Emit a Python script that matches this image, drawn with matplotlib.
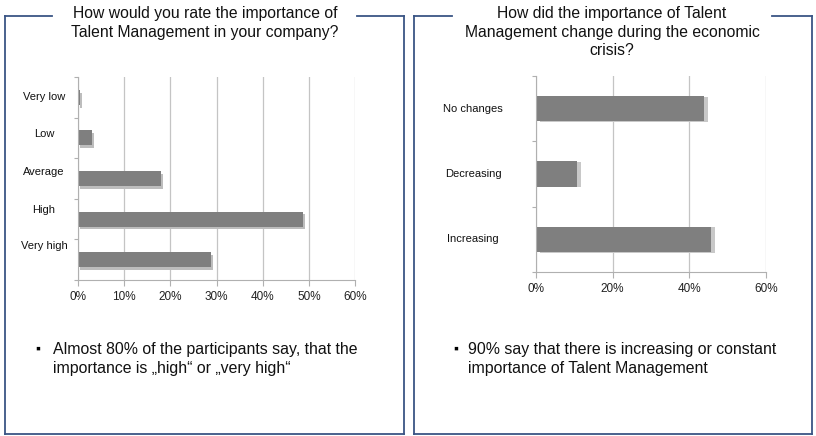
import matplotlib.pyplot as plt
import matplotlib.patheffects as pe
from matplotlib.lines import Line2D
from matplotlib.ticker import PercentFormatter
from matplotlib.transforms import blended_transform_factory

plt.rcParams['font.family'] = ['Liberation Sans', 'DejaVu Sans']

# Daten
rating_labels = ['Very low', 'Low', 'Average', 'High', 'Very high']
rating_values = [0.5, 3.0, 18.0, 48.7, 28.8]

change_labels = ['No changes', 'Decreasing', 'Increasing']
change_values = [43.7, 10.6, 45.7]

title_left = 'How would you rate the importance of\nTalent Management in your company?'
title_right = 'How did the importance of Talent\nManagement change during the economic\ncrisis?'
note_left = 'Almost 80% of the participants say, that the\nimportance is \u201ehigh\u201c or \u201every high\u201c'
note_right = '90% say that there is increasing or constant\nimportance of Talent Management'

W, H = 816, 436
fig = plt.figure(figsize=(W / 100, H / 100), dpi=100)
fig.patch.set_facecolor('white')

box_color = '#3a5585'


def px(x, y):
    return x / W, 1 - y / H


def box(x0, x1, y0, y1, gap0, gap1):
    segs = [((x0, y0), (gap0, y0)), ((gap1, y0), (x1, y0)),
            ((x1, y0), (x1, y1)), ((x1, y1), (x0, y1)), ((x0, y1), (x0, y0))]
    for a, b in segs:
        (xa, ya), (xb, yb) = px(*a), px(*b)
        fig.add_artist(Line2D([xa, xb], [ya, yb], color=box_color, lw=1.3))


box(5, 404, 16, 434, 52, 357)
box(414, 812, 16, 434, 452, 772)


def style_axes(ax, n, xmax, step):
    ax.set_xlim(0, xmax)
    ax.set_ylim(n - 0.5, -0.5)
    ax.set_xticks(range(0, xmax + 1, step))
    ax.xaxis.set_major_formatter(PercentFormatter(decimals=0))
    ax.set_yticks([i - 0.5 for i in range(n + 1)])
    ax.set_yticklabels([])
    ax.grid(axis='x', color='#c4c4c4', lw=0.9)
    ax.set_axisbelow(True)
    for s in ['top', 'right']:
        ax.spines[s].set_visible(False)
    for s in ['left', 'bottom']:
        ax.spines[s].set_color('#b0b0b0')
    ax.tick_params(axis='x', length=4, color='#b0b0b0', labelsize=8.5, labelcolor='#222222', pad=4)
    ax.tick_params(axis='y', length=3, color='#b0b0b0')


# linkes Diagramm
ax1 = fig.add_axes([78 / W, 1 - 280 / H, 277 / W, 203 / H])
style_axes(ax1, len(rating_labels), 60, 10)
bars = ax1.barh(range(len(rating_labels)), rating_values, height=0.37, color='#7f7f7f')
for b in bars:
    b.set_path_effects([pe.SimplePatchShadow(offset=(1.5, -2), shadow_rgbFace='#bdbdbd', alpha=1), pe.Normal()])
label_shift = [0.0, 0.1, 0.17, 0.22, 0.34]
tr1 = blended_transform_factory(fig.transFigure, ax1.transData)
for i, lab in enumerate(rating_labels):
    ax1.text(44 / W, i - label_shift[i], lab, transform=tr1,
             ha='center', va='center', fontsize=8, color='#111111')

# rechtes Diagramm
ax2 = fig.add_axes([536 / W, 1 - 272 / H, 230 / W, 196 / H])
style_axes(ax2, len(change_labels), 60, 20)
bars = ax2.barh(range(len(change_labels)), change_values, height=0.39, color='#7f7f7f')
for b in bars:
    b.set_path_effects([pe.SimplePatchShadow(offset=(3, -0.5), shadow_rgbFace='#c8c8c8', alpha=1), pe.Normal()])
tr2 = blended_transform_factory(fig.transFigure, ax2.transData)
for i, lab in enumerate(change_labels):
    ax2.text(473 / W, i, lab, transform=tr2,
             ha='center', va='center', fontsize=8, color='#111111')

# Titel
fig.text(*px(205, 23), title_left, ha='center', va='center', fontsize=11.3, linespacing=1.3, color='#111111')
fig.text(*px(612, 32), title_right, ha='center', va='center', fontsize=11.3, linespacing=1.3, color='#111111')

# Aufzählung
fig.text(*px(38, 349), '\u25aa', ha='center', va='center', fontsize=10)
fig.text(*px(53, 359), note_left, ha='left', va='center', fontsize=11.4, linespacing=1.35, color='#111111')
fig.text(*px(456, 349), '\u25aa', ha='center', va='center', fontsize=10)
fig.text(*px(468, 359), note_right, ha='left', va='center', fontsize=11.4, linespacing=1.35, color='#111111')

fig.savefig('out.png', dpi=100)
